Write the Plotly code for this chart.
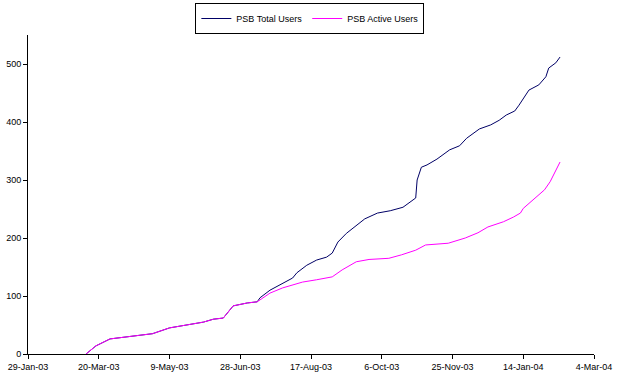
import plotly.graph_objects as go

# PSB Total Users
total_dates = [
    "2003-03-11", "2003-03-18", "2003-03-28", "2003-04-04", "2003-04-16", "2003-04-27",
    "2003-05-09", "2003-05-21", "2003-06-02", "2003-06-09", "2003-06-16", "2003-06-23",
    "2003-07-03", "2003-07-10", "2003-07-12", "2003-07-19", "2003-07-28", "2003-08-04",
    "2003-08-07", "2003-08-14", "2003-08-21", "2003-08-28", "2003-09-01", "2003-09-05",
    "2003-09-11", "2003-09-18", "2003-09-24", "2003-10-03", "2003-10-12", "2003-10-21",
    "2003-10-30", "2003-10-31", "2003-11-03", "2003-11-07", "2003-11-14", "2003-11-23",
    "2003-11-30", "2003-12-05", "2003-12-14", "2003-12-22", "2003-12-28", "2004-01-02",
    "2004-01-08", "2004-01-11", "2004-01-15", "2004-01-18", "2004-01-25", "2004-01-30",
    "2004-02-01", "2004-02-06", "2004-02-09",
]
total_users = [
    0, 14, 26, 28, 31, 35,
    45, 50, 55, 60, 62, 83,
    88, 90, 97, 110, 122, 131,
    140, 153, 162, 167, 174, 193,
    208, 222, 233, 243, 247, 253,
    269, 300, 322, 326, 336, 352,
    359, 372, 388, 395, 403, 412,
    419, 429, 443, 455, 464, 478,
    493, 502, 512,
]

# PSB Active Users
active_dates = [
    "2003-03-11", "2003-03-18", "2003-03-28", "2003-04-04", "2003-04-16", "2003-04-27",
    "2003-05-09", "2003-05-21", "2003-06-02", "2003-06-09", "2003-06-16", "2003-06-23",
    "2003-07-03", "2003-07-10", "2003-07-19", "2003-07-28", "2003-08-11", "2003-08-21",
    "2003-09-01", "2003-09-08", "2003-09-18", "2003-09-27", "2003-10-11", "2003-10-20",
    "2003-10-30", "2003-11-06", "2003-11-22", "2003-12-04", "2003-12-13", "2003-12-20",
    "2003-12-31", "2004-01-07", "2004-01-12", "2004-01-14", "2004-01-19", "2004-01-26",
    "2004-01-29", "2004-02-02", "2004-02-05", "2004-02-09",
]
active_users = [
    0, 14, 26, 28, 31, 35,
    45, 50, 55, 60, 62, 83,
    88, 90, 105, 114, 124, 128,
    133, 145, 159, 163, 165, 171,
    179, 188, 191, 200, 209, 219,
    228, 236, 243, 251, 262, 277,
    283, 297, 312, 331,
]

x_tick_vals = ["2003-01-29", "2003-03-20", "2003-05-09", "2003-06-28", "2003-08-17",
               "2003-10-06", "2003-11-25", "2004-01-14", "2004-03-04"]
x_tick_text = ["29-Jan-03", "20-Mar-03", "9-May-03", "28-Jun-03", "17-Aug-03",
               "6-Oct-03", "25-Nov-03", "14-Jan-04", "4-Mar-04"]
y_tick_vals = [0, 100, 200, 300, 400, 500]

fig = go.Figure()
fig.add_trace(go.Scatter(x=total_dates, y=total_users, mode="lines", name="PSB Total Users",
                         line=dict(color="#000066", width=1)))
fig.add_trace(go.Scatter(x=active_dates, y=active_users, mode="lines", name="PSB Active Users",
                         line=dict(color="#FF00FF", width=1)))

fig.update_layout(
    width=622, height=376,
    margin=dict(l=28, r=28, t=35, b=22, autoexpand=False),
    paper_bgcolor="white", plot_bgcolor="white",
    font=dict(family="Liberation Sans, Arial, sans-serif", size=9, color="black"),
    showlegend=True,
    legend=dict(orientation="h", x=0.498, xanchor="center", y=1.1003, yanchor="top",
                bordercolor="black", borderwidth=1, bgcolor="white",
                font=dict(size=9), itemwidth=30, tracegroupgap=0,
                traceorder="normal", valign="middle"),
    xaxis=dict(range=["2003-01-29", "2004-03-04"], tickvals=x_tick_vals, ticktext=x_tick_text,
               showgrid=False, zeroline=False, showline=True, linecolor="black", linewidth=1,
               ticks="outside", ticklen=4, tickcolor="black", automargin=False, tickangle=0),
    yaxis=dict(range=[0, 550], tickvals=y_tick_vals, showgrid=False, zeroline=False,
               showline=True, linecolor="black", linewidth=1,
               ticks="outside", ticklen=4, tickcolor="black", automargin=False),
)

fig.write_html("out.html", config={"displayModeBar": False},
               post_script="document.body.style.margin='0';document.body.style.overflow='hidden';")
